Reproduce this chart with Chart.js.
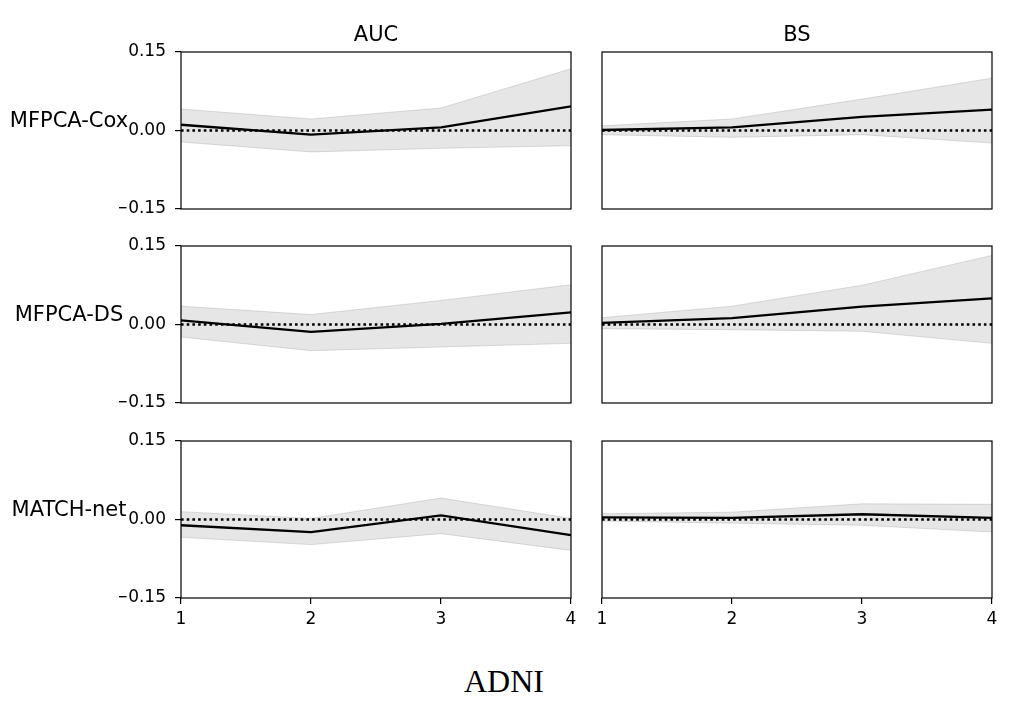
<!DOCTYPE html>
<html>
<head>
<meta charset="utf-8">
<script src="https://cdn.jsdelivr.net/npm/chart.js@4.4.1/dist/chart.umd.min.js"></script>
<style>
  body { margin: 0; background: #fff; width: 1021px; height: 701px; position: relative; overflow: hidden; }
  .panel { position: absolute; }
  .lbl { position: absolute; font-family: "DejaVu Sans", sans-serif; font-size: 21px; color: #000; white-space: nowrap; transform: translate(-50%, -50%); }
  #caption { position: absolute; left: 504px; top: 681px; transform: translate(-50%, -50%); font-family: "Liberation Serif", serif; font-size: 32px; color: #000; }
</style>
</head>
<body>
<div id="caption">ADNI</div>
<script>
const timePoints = [1, 2, 3, 4];
const colTitles = ["AUC", "BS"];
const rowLabels = ["MFPCA-Cox", "MFPCA-DS", "MATCH-net"];
const yTicks = [-0.15, 0, 0.15];

// MFPCA-Cox
const coxAucMean = [0.011, -0.008, 0.006, 0.046];
const coxAucUpper = [0.041, 0.022, 0.043, 0.118];
const coxAucLower = [-0.022, -0.041, -0.034, -0.029];
const coxBsMean = [0.001, 0.006, 0.026, 0.040];
const coxBsUpper = [0.009, 0.022, 0.060, 0.100];
const coxBsLower = [-0.008, -0.013, -0.008, -0.024];

// MFPCA-DS
const dsAucMean = [0.008, -0.014, 0.001, 0.023];
const dsAucUpper = [0.035, 0.019, 0.046, 0.076];
const dsAucLower = [-0.024, -0.050, -0.043, -0.036];
const dsBsMean = [0.003, 0.012, 0.034, 0.050];
const dsBsUpper = [0.013, 0.035, 0.075, 0.132];
const dsBsLower = [-0.008, -0.010, -0.013, -0.036];

// MATCH-net
const matchAucMean = [-0.011, -0.024, 0.008, -0.030];
const matchAucUpper = [0.015, 0.002, 0.041, 0.002];
const matchAucLower = [-0.034, -0.048, -0.027, -0.059];
const matchBsMean = [0.004, 0.003, 0.010, 0.003];
const matchBsUpper = [0.011, 0.014, 0.030, 0.029];
const matchBsLower = [-0.003, -0.007, -0.011, -0.024];

const panels = [
  { row: 0, col: 0, mean: coxAucMean, upper: coxAucUpper, lower: coxAucLower },
  { row: 0, col: 1, mean: coxBsMean, upper: coxBsUpper, lower: coxBsLower },
  { row: 1, col: 0, mean: dsAucMean, upper: dsAucUpper, lower: dsAucLower },
  { row: 1, col: 1, mean: dsBsMean, upper: dsBsUpper, lower: dsBsLower },
  { row: 2, col: 0, mean: matchAucMean, upper: matchAucUpper, lower: matchAucLower },
  { row: 2, col: 1, mean: matchBsMean, upper: matchBsUpper, lower: matchBsLower },
];

// plot-area geometry (px)
const colLeft = [181, 602];
const rowTop = [52, 246, 441];
const plotW = 390;
const plotH = 157;
const padX = 12;
const padY = 22;

Chart.defaults.font.family = "DejaVu Sans";
Chart.defaults.font.size = 17;
Chart.defaults.color = "#000";

const framePlugin = {
  id: "frame",
  afterDraw(chart) {
    const { ctx, chartArea: a } = chart;
    ctx.save();
    ctx.strokeStyle = "#000";
    ctx.lineWidth = 1.2;
    ctx.strokeRect(a.left, a.top, a.right - a.left, a.bottom - a.top);
    ctx.restore();
  },
};

const toPts = (ys) => timePoints.map((t, i) => ({ x: t, y: ys[i] }));

function fmtTick(v) {
  if (Math.abs(v) < 1e-9) return "0.00";
  return (v < 0 ? "\u2212" : "") + Math.abs(v).toFixed(2);
}

panels.forEach((p) => {
  const yAxisW = p.col === 0 ? 62 : 0;
  const xAxisH = p.row === 2 ? 34 : 0;
  const w = padX + yAxisW + plotW + padX;
  const h = padY + plotH + xAxisH + padY;

  const div = document.createElement("div");
  div.className = "panel";
  div.style.left = colLeft[p.col] - yAxisW - padX + "px";
  div.style.top = rowTop[p.row] - padY + "px";
  const canvas = document.createElement("canvas");
  canvas.width = w;
  canvas.height = h;
  canvas.style.width = w + "px";
  canvas.style.height = h + "px";
  div.appendChild(canvas);
  document.body.appendChild(div);

  new Chart(canvas, {
    type: "line",
    data: {
      datasets: [
        {
          label: "upper",
          data: toPts(p.upper),
          borderColor: "rgba(128,128,128,0.25)",
          borderWidth: 1,
          backgroundColor: "rgba(128,128,128,0.2)",
          pointRadius: 0,
          tension: 0,
          fill: "+1",
          order: 3,
        },
        {
          label: "lower",
          data: toPts(p.lower),
          borderColor: "rgba(128,128,128,0.25)",
          borderWidth: 1,
          pointRadius: 0,
          tension: 0,
          fill: false,
          order: 2,
        },
        {
          label: "mean",
          data: toPts(p.mean),
          borderColor: "#000",
          borderWidth: 2.3,
          pointRadius: 0,
          tension: 0,
          fill: false,
          order: 1,
        },
        {
          label: "zero",
          data: toPts(timePoints.map(() => 0)),
          borderColor: "#000",
          borderWidth: 2.6,
          borderDash: [2.6, 3.1],
          pointRadius: 0,
          fill: false,
          order: 0,
        },
      ],
    },
    options: {
      responsive: false,
      animation: false,
      layout: { padding: { top: padY, bottom: padY, left: padX, right: padX } },
      plugins: { legend: { display: false }, tooltip: { enabled: false } },
      scales: {
        x: {
          type: "linear",
          min: timePoints[0],
          max: timePoints[timePoints.length - 1],
          display: p.row === 2,
          afterFit: (s) => { s.height = xAxisH; },
          border: { display: false },
          grid: { drawOnChartArea: false, drawTicks: true, tickLength: 6, color: "#000", lineWidth: 1.2 },
          ticks: { stepSize: 1, padding: 5, maxRotation: 0, callback: (v) => String(v) },
        },
        y: {
          type: "linear",
          min: yTicks[0],
          max: yTicks[yTicks.length - 1],
          display: p.col === 0,
          afterFit: (s) => { s.width = yAxisW; },
          afterBuildTicks: (s) => { s.ticks = yTicks.map((v) => ({ value: v })); },
          border: { display: false },
          grid: { drawOnChartArea: false, drawTicks: true, tickLength: 6, color: "#000", lineWidth: 1.2 },
          ticks: { padding: 9, callback: fmtTick },
        },
      },
    },
    plugins: [framePlugin],
  });
});

colTitles.forEach((t, c) => {
  const el = document.createElement("div");
  el.className = "lbl";
  el.textContent = t;
  el.style.left = colLeft[c] + plotW / 2 + "px";
  el.style.top = "34px";
  document.body.appendChild(el);
});

rowLabels.forEach((t, r) => {
  const el = document.createElement("div");
  el.className = "lbl";
  el.textContent = t;
  el.style.left = "69px";
  el.style.top = rowTop[r] + plotH / 2 - 11 + "px";
  document.body.appendChild(el);
});
</script>
</body>
</html>
